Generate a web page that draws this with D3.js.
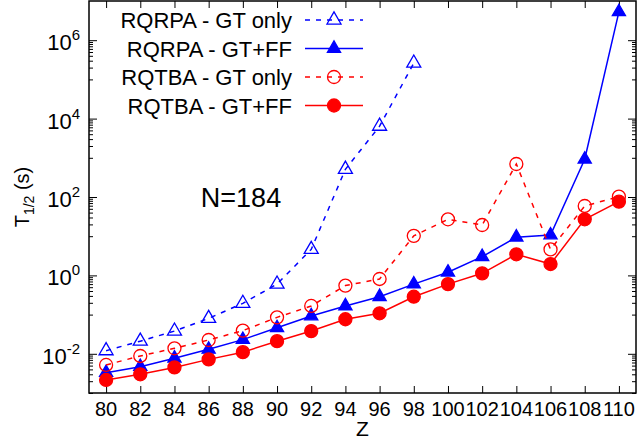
<!DOCTYPE html>
<html>
<head>
<meta charset="utf-8">
<script src="https://cdn.jsdelivr.net/npm/d3@7"></script>
<style>
    body { margin: 0; background: #fff; }
    svg { font-family: "Liberation Sans", Arial, Helvetica, sans-serif; }
</style>
</head>
<body>
<div id="chart"></div>
<script>
// proton number, halflives in seconds
let zValues = [80, 82, 84, 86, 88, 90, 92, 94, 96, 98, 100, 102, 104, 106, 108, 110];
let rqrpaGT = [0.012, 0.021, 0.038, 0.080, 0.194, 0.60, 4.6, 510, 6400, 2.6e5];
let rqrpaFF = [0.0033, 0.0047, 0.0077, 0.013, 0.023, 0.046, 0.092, 0.166, 0.286, 0.60, 1.2, 3.0, 9.4, 10.7, 916, 5.3e6];
let rqtbaGT = [0.0052, 0.0088, 0.0138, 0.0225, 0.039, 0.085, 0.166, 0.55, 0.81, 10.2, 27, 19.3, 695, 4.6, 59, 102];
let rqtbaFF = [0.00215, 0.0030, 0.0045, 0.0072, 0.011, 0.021, 0.038, 0.076, 0.108, 0.286, 0.60, 1.13, 3.45, 1.95, 27, 76];

let seriesNames = ["RQRPA - GT only", "RQRPA - GT+FF", "RQTBA - GT only", "RQTBA - GT+FF"];
let yTickExps = [-2, 0, 2, 4, 6];
let xTicks = [80, 82, 84, 86, 88, 90, 92, 94, 96, 98, 100, 102, 104, 106, 108, 110];

let width = 638, height = 439;
let margin = {top: 1, right: 2, bottom: 46, left: 89};

let svg = d3.select("#chart").append("svg")
    .attr("width", width)
    .attr("height", height);

let x = d3.scaleLinear().domain([79, 111]).range([margin.left, width - margin.right]);
let y = d3.scaleLog().domain([1e-3, 1e7]).range([height - margin.bottom, margin.top]);

// minor ticks sit in the odd decades (1..9 x 10^odd)
let minor = [];
[-3, -1, 1, 3, 5].forEach(e => {
    for (let m = 1; m <= 9; m++) minor.push(m * Math.pow(10, e));
});
let major = yTickExps.map(e => Math.pow(10, e));

let x0 = x.range()[0], x1 = x.range()[1];
let y0 = y.range()[0], y1 = y.range()[1];

function axisStyle(g) {
    g.select(".domain").remove();
    g.selectAll("line").attr("stroke", "#000").attr("stroke-width", 1);
}

svg.append("g").attr("transform", `translate(${x0},0)`)
    .call(d3.axisLeft(y).tickValues(minor).tickSize(-4).tickFormat(""))
    .call(axisStyle);
svg.append("g").attr("transform", `translate(${x0},0)`)
    .call(d3.axisLeft(y).tickValues(major).tickSize(-8).tickFormat(""))
    .call(axisStyle);
svg.append("g").attr("transform", `translate(${x1},0)`)
    .call(d3.axisRight(y).tickValues(minor).tickSize(-4).tickFormat(""))
    .call(axisStyle);
svg.append("g").attr("transform", `translate(${x1},0)`)
    .call(d3.axisRight(y).tickValues(major).tickSize(-8).tickFormat(""))
    .call(axisStyle);
svg.append("g").attr("transform", `translate(0,${y0})`)
    .call(d3.axisBottom(x).tickValues(xTicks).tickSize(-7).tickFormat(""))
    .call(axisStyle);
svg.append("g").attr("transform", `translate(0,${y1})`)
    .call(d3.axisTop(x).tickValues(xTicks).tickSize(-7).tickFormat(""))
    .call(axisStyle);

// border
svg.append("rect")
    .attr("x", x0).attr("y", y1)
    .attr("width", x1 - x0).attr("height", y0 - y1)
    .attr("fill", "none").attr("stroke", "#000").attr("stroke-width", 1.5);

// x tick labels
svg.selectAll(".xlab").data(xTicks).enter().append("text")
    .attr("x", d => x(d))
    .attr("y", y0 + 23)
    .attr("text-anchor", "middle")
    .style("font-size", "20px")
    .text(d => d);

// y tick labels 10^n
let ylab = svg.selectAll(".ylab").data(yTickExps).enter().append("text")
    .attr("x", x0 - 9)
    .attr("y", d => y(Math.pow(10, d)) + 10)
    .attr("text-anchor", "end")
    .style("font-size", "22px");
ylab.append("tspan").text("10");
ylab.append("tspan").attr("dy", -10).style("font-size", "15px").text(d => d);

// axis titles
svg.append("text")
    .attr("x", (x0 + x1) / 2).attr("y", 436)
    .attr("text-anchor", "middle")
    .style("font-size", "21px")
    .text("Z");

let yTitle = svg.append("text")
    .attr("transform", `translate(29,${(y0 + y1) / 2}) rotate(-90)`)
    .attr("text-anchor", "middle")
    .style("font-size", "20px");
yTitle.append("tspan").text("T");
yTitle.append("tspan").attr("dy", 5).style("font-size", "14px").text("1/2");
yTitle.append("tspan").attr("dy", -5).text(" (s)");

svg.append("text")
    .attr("x", 241).attr("y", 207)
    .attr("text-anchor", "middle")
    .style("font-size", "27px")
    .text("N=184");

// series
let series = [
    {name: seriesNames[0], values: rqrpaGT, color: "#0000ff", dash: "5,6", marker: "triangle", filled: false},
    {name: seriesNames[1], values: rqrpaFF, color: "#0000ff", dash: null, marker: "triangle", filled: true},
    {name: seriesNames[2], values: rqtbaGT, color: "#ff0000", dash: "5,6", marker: "circle", filled: false},
    {name: seriesNames[3], values: rqtbaFF, color: "#ff0000", dash: null, marker: "circle", filled: true}
];
series.forEach(s => {
    s.points = s.values.map((v, i) => ({z: zValues[i], v: v}));
});

let line = d3.line().x(d => x(d.z)).y(d => y(d.v));

function drawMarker(g, s, cx, cy) {
    let fill = s.filled ? s.color : "none";
    if (s.marker === "circle") {
        g.append("circle")
            .attr("cx", cx).attr("cy", cy)
            .attr("r", 6.5)
            .attr("fill", fill)
            .attr("stroke", s.color).attr("stroke-width", 1.3);
    } else {
        let sym = d3.symbol().type(d3.symbolTriangle).size(s.filled ? 75 : 85);
        g.append("path")
            .attr("d", sym())
            .attr("transform", `translate(${cx},${cy})`)
            .attr("fill", fill)
            .attr("stroke", s.color).attr("stroke-width", 1.3);
    }
}

series.forEach(s => {
    let g = svg.append("g");
    g.append("path")
        .datum(s.points)
        .attr("d", line)
        .attr("fill", "none")
        .attr("stroke", s.color)
        .attr("stroke-width", 1.5)
        .attr("stroke-dasharray", s.dash);
    s.points.forEach(p => drawMarker(g, s, x(p.z), y(p.v)));
});

// legend
let legendY = [20, 48.5, 77, 105.5];
series.forEach((s, i) => {
    let g = svg.append("g");
    g.append("text")
        .attr("x", 292).attr("y", legendY[i] + 8)
        .attr("text-anchor", "end")
        .style("font-size", "22px")
        .text(s.name);
    g.append("line")
        .attr("x1", 305).attr("x2", 363)
        .attr("y1", legendY[i]).attr("y2", legendY[i])
        .attr("stroke", s.color)
        .attr("stroke-width", 1.5)
        .attr("stroke-dasharray", s.dash);
    drawMarker(g, s, 334, legendY[i]);
});
</script>
</body>
</html>
